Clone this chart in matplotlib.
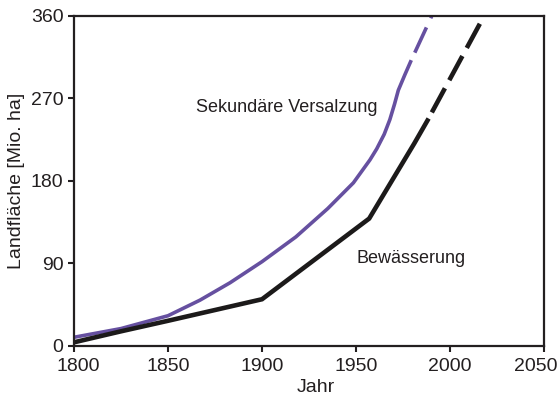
import matplotlib.pyplot as plt
import matplotlib.transforms as mtransforms

plt.rcParams['font.family'] = ['Liberation Sans', 'DejaVu Sans']

# Bewässerung (irrigated land), solid part and projected (dashed) part
irr_years = [1800, 1825, 1850, 1900, 1957, 1981, 1988]
irr_vals = [4, 16, 27.5, 51, 139, 221, 246]
irr_proj_years = [1988, 2016, 2020]
irr_proj_vals = [246, 352, 367]

# Sekundäre Versalzung (secondary salinisation)
sal_years = [1800, 1825, 1850, 1867, 1883, 1900, 1918, 1935, 1948.6,
             1957.4, 1961, 1965, 1968, 1970.5, 1972.5, 1976, 1979]
sal_vals = [9.5, 19, 33, 50, 69, 92, 119, 150, 178,
            203, 215, 231, 247, 264, 279, 296, 310]
sal_proj_years = [1979, 1990.5]
sal_proj_vals = [310, 361]

xticks = [1800, 1850, 1900, 1950, 2000, 2050]
yticks = [0, 90, 180, 270, 360]

purple = '#6650a0'
black = '#1c1a1a'

fig = plt.figure(figsize=(5.59, 4.01), dpi=100)
ax = fig.add_axes([0.1324, 0.1372, 0.8408, 0.8229])

lw_b = 3.3
lw_p = 2.6
ax.plot(sal_years, sal_vals, color=purple, lw=lw_p)
ax.plot(sal_proj_years, sal_proj_vals, color=purple, lw=lw_p,
        ls=(7.7, (7.7, 2.8)))
ax.plot(irr_years, irr_vals, color=black, lw=lw_b, solid_joinstyle='miter')
ax.plot(irr_proj_years, irr_proj_vals, color=black, lw=lw_b,
        ls=(6.0, (6.0, 2.0)))

ax.text(1865, 260, 'Sekundäre Versalzung', fontsize=13, color='#231f20',
        va='center', ha='left')
ax.text(1950, 95, 'Bewässerung', fontsize=13, color='#231f20',
        va='center', ha='left')

ax.set_xlim(1800, 2050)
ax.set_ylim(0, 360)
ax.set_xticks(xticks)
ax.set_yticks(yticks)
ax.tick_params(direction='out', length=4.5, width=1.5, labelsize=14,
               colors='#231f20', pad=3)
ax.tick_params(axis='x', pad=4)
for s in ax.spines.values():
    s.set_linewidth(1.6)
    s.set_color('#231f20')

# first and last x labels are nudged inwards like in the original
xlabels = ax.get_xticklabels()
xlabels[0].set_transform(xlabels[0].get_transform() +
                         mtransforms.ScaledTranslation(4 / 100, 0, fig.dpi_scale_trans))
xlabels[-1].set_transform(xlabels[-1].get_transform() +
                          mtransforms.ScaledTranslation(-8 / 100, 0, fig.dpi_scale_trans))

ax.set_xlabel('Jahr', fontsize=14, color='#231f20')
ax.xaxis.set_label_coords(0.515, -0.1)
ax.set_ylabel('Landfläche [Mio. ha]', fontsize=14, color='#231f20', labelpad=4)

fig.savefig('out.png', dpi=100)
